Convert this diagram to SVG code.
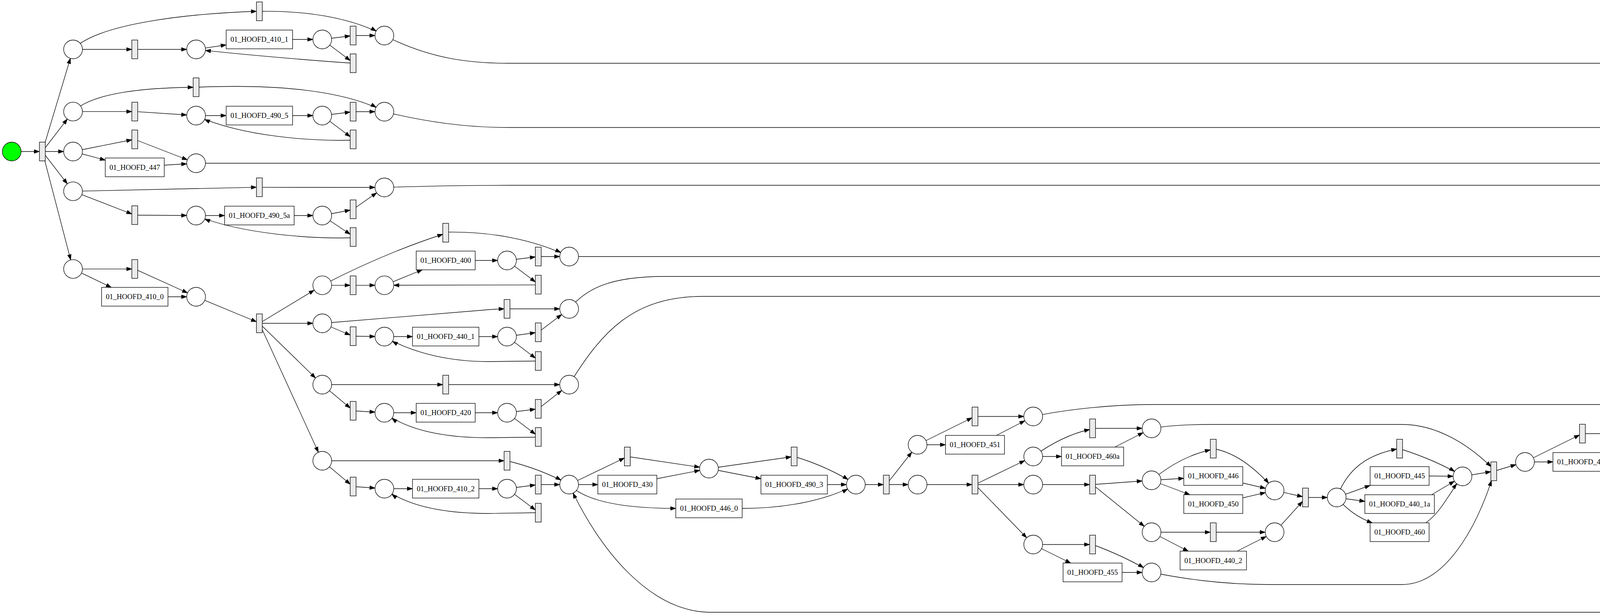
<svg xmlns="http://www.w3.org/2000/svg" width="7537" height="1575" viewBox="0 0 7537 1575">
<defs>
<style>
.pl{fill:#fff;stroke:#000;stroke-width:1.333}
.tr{fill:#ebebeb;stroke:#000;stroke-width:1.333}
.bx{fill:#fff;stroke:#000;stroke-width:1.333}
.lb{font-family:"Liberation Serif","Times New Roman",serif;font-size:18.67px;text-anchor:middle;fill:#000}
.e{fill:none;stroke:#000;stroke-width:1.333;marker-end:url(#a)}
.ep{fill:none;stroke:#000;stroke-width:1.333;marker-end:url(#ap)}
</style>
<marker id="a" viewBox="0 -5 14 10" refX="13.3" refY="0" markerWidth="14" markerHeight="10" markerUnits="userSpaceOnUse" orient="auto" overflow="visible"><path d="M0,-4.67 L13.3,0 L0,4.67 z" fill="#000" stroke="#000" stroke-width="1"/></marker>
<marker id="ap" viewBox="0 -5 14 10" refX="37.3" refY="0" markerWidth="14" markerHeight="10" markerUnits="userSpaceOnUse" orient="auto" overflow="visible"><path d="M0,-4.67 L13.3,0 L0,4.67 z" fill="#000" stroke="#000" stroke-width="1"/></marker>
</defs>
<rect x="0" y="0" width="7537" height="1575" fill="#fff"/>
<g id="edges">
<path class="e" d="M30,388 L101,388"/>
<path class="ep" d="M108.5,388 L187,126.5"/>
<path class="ep" d="M108.5,388 L187,285.7"/>
<path class="ep" d="M108.5,388 L187,388"/>
<path class="ep" d="M108.5,388 L187,489.8"/>
<path class="ep" d="M108.5,388 L187,688.8"/>
<path class="e" d="M187,126.5 L337.5,126.5"/>
<path class="e" d="M187,126.5 C250,60 480,35 656.5,29"/>
<path class="ep" d="M664,29 C800,27 910,50 984,91"/>
<path class="ep" d="M345,126.5 L502,126.5"/>
<path class="e" d="M502,126.5 L579,115"/>
<path class="ep" d="M749,101 L825,101"/>
<path class="e" d="M825,101 L896.5,92"/>
<path class="e" d="M825,101 L896.5,155"/>
<path class="ep" d="M904,91 L984,91"/>
<path class="ep" d="M904,162 C800,155 620,140 502,126.5"/>
<path class="e" d="M984,91 C1100,150 1200,162 1300,162 L7274,162 C7380,162 7418,290 7425,394"/>
<path class="e" d="M187,285.7 L337.5,285.7"/>
<path class="e" d="M187,285.7 C240,235 380,225 494.5,223.5"/>
<path class="ep" d="M502,223.5 C700,215 880,230 984,286"/>
<path class="ep" d="M345,285.7 L502,296"/>
<path class="e" d="M502,296 L579,296"/>
<path class="ep" d="M749,296 L825,296"/>
<path class="e" d="M825,296 L896.5,287"/>
<path class="e" d="M825,296 L896.5,350"/>
<path class="ep" d="M904,286 L984,286"/>
<path class="ep" d="M904,359 C800,362 620,350 502,296"/>
<path class="e" d="M984,286 C1100,315 1200,326.5 1300,326.5 L7274,326.5 C7340,326.5 7390,370 7421.5,406"/>
<path class="e" d="M187,388 L337.5,358"/>
<path class="e" d="M187,388 L269.5,410"/>
<path class="ep" d="M345,357 L502,418"/>
<path class="ep" d="M420.5,423 L502,418"/>
<path class="e" d="M502,418 L7421.5,418"/>
<path class="e" d="M187,489.8 L656.5,479.6"/>
<path class="e" d="M187,489.8 L337.5,548"/>
<path class="ep" d="M664,479.6 L984,480"/>
<path class="ep" d="M345,551 L502,552"/>
<path class="e" d="M502,552 L575,552"/>
<path class="ep" d="M753,552 L825,552"/>
<path class="e" d="M825,552 L896.5,538"/>
<path class="e" d="M825,552 L896.5,600"/>
<path class="ep" d="M904,536 L984,480"/>
<path class="ep" d="M904,609 C800,612 620,600 502,552"/>
<path class="e" d="M984,480 C1100,476 1200,474.5 1300,474.5 L7274,474.5 C7350,474.5 7395,460 7422,438"/>
<path class="e" d="M187,688.8 L337.5,688.8"/>
<path class="e" d="M187,688.8 L285,736"/>
<path class="ep" d="M345,688.8 L502,760"/>
<path class="ep" d="M430,760 L502,760"/>
<path class="e" d="M502,760 L656.5,824"/>
<path class="ep" d="M664,828 L825,730.6"/>
<path class="ep" d="M664,828 L825,828"/>
<path class="ep" d="M664,828 L825,985"/>
<path class="ep" d="M664,828 L825,1180"/>
<path class="e" d="M825,730.6 L896.5,730.6"/>
<path class="e" d="M825,730.6 Q980,650 1133.5,600"/>
<path class="ep" d="M904,730.6 L984,730.6"/>
<path class="e" d="M984,730.6 L1081,691"/>
<path class="ep" d="M1216.5,667 L1298,667"/>
<path class="e" d="M1298,667 L1370.5,658"/>
<path class="e" d="M1298,667 L1370.5,722"/>
<path class="ep" d="M1378,657 L1457,657"/>
<path class="ep" d="M1378,729.6 L984,730.6"/>
<path class="ep" d="M1141,594.5 C1260,592 1370,615 1457,657"/>
<path class="e" d="M1457,657 L7112,657 C7180,657 7230,680 7260.5,700"/>
<path class="e" d="M825,828 L1240,794 Q1260,792 1290.5,791"/>
<path class="e" d="M825,828 L896.5,858"/>
<path class="ep" d="M904,861 L984,862"/>
<path class="e" d="M984,862 L1056,862"/>
<path class="ep" d="M1226,862 L1298,862"/>
<path class="e" d="M1298,862 L1370.5,852"/>
<path class="e" d="M1298,862 L1370.5,917"/>
<path class="ep" d="M1378,851 L1457,791"/>
<path class="ep" d="M1298,791 L1457,791"/>
<path class="ep" d="M1378,924.5 L1250,926 C1130,926 1040,895 984,862"/>
<path class="e" d="M1457,791 C1500,740 1560,708 1700,708 L7260.5,708"/>
<path class="e" d="M825,985 L1133.5,985"/>
<path class="e" d="M825,985 L896.5,1045"/>
<path class="ep" d="M1141,985 L1457,985"/>
<path class="ep" d="M904,1052 L984,1057"/>
<path class="e" d="M984,1057 L1065.5,1057"/>
<path class="ep" d="M1216.5,1057 L1298,1057"/>
<path class="e" d="M1298,1057 L1370.5,1048"/>
<path class="e" d="M1298,1057 L1370.5,1112"/>
<path class="ep" d="M1378,1047 L1457,985"/>
<path class="ep" d="M1378,1119.5 L1250,1121 C1120,1121 1035,1095 984,1057"/>
<path class="e" d="M1457,985 C1540,850 1620,759 1800,759 L7112,759 C7180,759 7230,740 7260.5,716"/>
<path class="e" d="M825,1180 L1290.5,1180"/>
<path class="e" d="M825,1180 L896.5,1240"/>
<path class="ep" d="M904,1246 L984,1251.5"/>
<path class="e" d="M984,1251.5 L1056,1251.5"/>
<path class="ep" d="M1226,1251.5 L1298,1251.5"/>
<path class="e" d="M1298,1251.5 L1370.5,1242"/>
<path class="e" d="M1298,1251.5 L1370.5,1306"/>
<path class="ep" d="M1378,1241 L1457,1241"/>
<path class="ep" d="M1378,1313 L1250,1315 C1120,1315 1035,1290 984,1251.5"/>
<path class="ep" d="M1298,1180 C1360,1195 1410,1215 1457,1241"/>
<path class="e" d="M1457,1241 L1598.5,1173"/>
<path class="e" d="M1457,1241 L1530.5,1241"/>
<path class="e" d="M1457,1241 C1500,1285 1600,1302 1730,1302"/>
<path class="ep" d="M1606,1169 L1815,1200"/>
<path class="ep" d="M1681.5,1226 L1815,1200"/>
<path class="e" d="M1815,1200 L2025.5,1170"/>
<path class="e" d="M1815,1200 L1948,1226"/>
<path class="ep" d="M2033,1169 Q2120,1195 2191,1241"/>
<path class="ep" d="M2118,1241 L2191,1241"/>
<path class="ep" d="M1900,1302 C2000,1302 2110,1285 2191,1241"/>
<path class="e" d="M2191,1241 L2261.5,1241"/>
<path class="ep" d="M2269,1241 L2349,1139"/>
<path class="ep" d="M2269,1241 L2349,1241"/>
<path class="e" d="M2349,1139 L2488.5,1070"/>
<path class="e" d="M2349,1139 L2420.5,1139"/>
<path class="e" d="M2349,1241 L2488.5,1241"/>
<path class="ep" d="M2496,1066.5 L2645,1066.5"/>
<path class="ep" d="M2551,1115 L2645,1066.5"/>
<path class="e" d="M2645,1066.5 C2720,1050 2840,1036 2950,1036 L4271.5,1036"/>
<path class="ep" d="M2496,1241 L2645,1169"/>
<path class="ep" d="M2496,1241 L2645,1241"/>
<path class="ep" d="M2496,1241 L2645,1394.5"/>
<path class="e" d="M2645,1169 Q2720,1115 2789.5,1100"/>
<path class="e" d="M2645,1169 L2717.5,1169"/>
<path class="ep" d="M2797,1097 L2948,1097"/>
<path class="ep" d="M2854,1145 L2948,1097"/>
<path class="e" d="M2948,1097 C2990,1090 3050,1087 3100,1087 L3589,1087 C3680,1087 3760,1140 3817,1195"/>
<path class="e" d="M2645,1241 L2789.5,1241"/>
<path class="ep" d="M2797,1241 L2948,1230"/>
<path class="ep" d="M2797,1241 L2948,1363"/>
<path class="e" d="M2645,1394.5 L2789.5,1394.5"/>
<path class="e" d="M2645,1394.5 L2741,1442"/>
<path class="ep" d="M2797,1394.5 Q2880,1425 2948,1466"/>
<path class="ep" d="M2872.5,1466 L2948,1466"/>
<path class="e" d="M2948,1466 C3020,1480 3120,1497 3250,1497 L3589,1497 C3700,1497 3780,1350 3818,1231"/>
<path class="e" d="M2948,1230 Q3020,1170 3098.5,1152"/>
<path class="e" d="M2948,1230 L3030.5,1225"/>
<path class="e" d="M2948,1230 L3046,1267"/>
<path class="ep" d="M3106,1149 C3170,1160 3225,1210 3263,1256"/>
<path class="ep" d="M3181.5,1237 L3263,1256"/>
<path class="ep" d="M3181.5,1275 L3263,1256"/>
<path class="e" d="M2948,1363 L3098.5,1363"/>
<path class="e" d="M2948,1363 L3042,1411.5"/>
<path class="ep" d="M3106,1363 L3263,1363"/>
<path class="ep" d="M3167,1411.5 L3263,1363"/>
<path class="e" d="M3263,1256 L3334.5,1272"/>
<path class="e" d="M3263,1363 L3334.5,1284"/>
<path class="ep" d="M3342,1274 L3422,1274"/>
<path class="e" d="M3422,1274 C3450,1200 3500,1165 3575.5,1150"/>
<path class="e" d="M3422,1274 L3507.5,1243"/>
<path class="e" d="M3422,1274 L3494,1284"/>
<path class="e" d="M3422,1274 Q3460,1320 3513,1339"/>
<path class="ep" d="M3583,1149 Q3680,1180 3744,1220"/>
<path class="ep" d="M3658.5,1219 L3744,1220"/>
<path class="ep" d="M3665,1267 L3744,1220"/>
<path class="ep" d="M3650,1339 C3690,1310 3705,1270 3744,1220"/>
<path class="e" d="M3744,1220 L3816.5,1208"/>
<path class="ep" d="M3824,1207 L3904,1183"/>
<path class="e" d="M3904,1183 L4043.5,1114"/>
<path class="e" d="M3904,1183 L3975.5,1183"/>
<path class="ep" d="M4051,1110.5 L4200,1110.5"/>
<path class="ep" d="M4106,1159 L4200,1110.5"/>
<path class="e" d="M4200,1110.5 L4271.5,1043"/>
<path class="ep" d="M4279,1036 L4358,1036"/>
<path class="e" d="M4358,1036 Q4430,985 4508.5,968"/>
<path class="e" d="M4358,1036 L4431,1036"/>
<path class="e" d="M4358,1036 L4452,1084"/>
<path class="ep" d="M4516,964 Q4600,990 4673,1036"/>
<path class="ep" d="M4601,1036 L4673,1036"/>
<path class="ep" d="M4575,1084 L4673,1036"/>
<path class="e" d="M4673,1036 L4744.5,1036"/>
<path class="ep" d="M4752,1036 L4831,891.5"/>
<path class="ep" d="M4752,1036 L4831,1036"/>
<path class="ep" d="M4752,1036 L4831,1108"/>
<path class="e" d="M4831,891.5 L4972.5,824"/>
<path class="e" d="M4831,891.5 L4904.5,891.5"/>
<path class="ep" d="M4980,820.5 L5127,820.5"/>
<path class="ep" d="M5032,867.5 L5127,820.5"/>
<path class="e" d="M4831,1036 L4972.5,967"/>
<path class="e" d="M4831,1036 L4904.5,1036"/>
<path class="ep" d="M4980,963.5 L5127,963.5"/>
<path class="ep" d="M5032,1011 L5127,963.5"/>
<path class="e" d="M4831,1108 L4972.5,1108"/>
<path class="e" d="M4831,1108 L4917,1155.5"/>
<path class="ep" d="M4980,1108 L5127,1164"/>
<path class="ep" d="M5055.5,1170 L5127,1164"/>
<path class="e" d="M5127,820.5 C5180,813 5240,811.5 5300,811.5 L6797,811.5 C6860,811.5 6910,830 6944.5,850"/>
<path class="e" d="M5127,963.5 C5170,890 5220,862 5300,862 L6944.5,862"/>
<path class="e" d="M5127,1164 L5199.5,1164"/>
<path class="ep" d="M5207,1164 L5286,1025"/>
<path class="ep" d="M5207,1164 L5286,1164"/>
<path class="ep" d="M5207,1164 L5286,1374"/>
<path class="e" d="M5286,1025 Q5370,970 5436.5,955"/>
<path class="e" d="M5286,1025 L5364.5,1025"/>
<path class="ep" d="M5444,952 L5601,952"/>
<path class="ep" d="M5505,1001 L5601,952"/>
<path class="e" d="M5601,952 C5650,925 5700,913 5780,913 L6635,913 C6700,913 6760,960 6787,1002"/>
<path class="e" d="M5286,1164 L5436.5,1149"/>
<path class="e" d="M5286,1164 L5374,1195"/>
<path class="ep" d="M5444,1147.5 L5601,1213.5"/>
<path class="ep" d="M5519.5,1216 L5601,1213.5"/>
<path class="e" d="M5286,1374 L5436.5,1374"/>
<path class="e" d="M5286,1374 L5378,1422"/>
<path class="ep" d="M5444,1374 Q5525,1405 5601,1446"/>
<path class="ep" d="M5529,1446 L5601,1446"/>
<path class="e" d="M5601,1446 C5650,1500 5700,1518 5780,1518 L6635,1518 C6740,1518 6780,1200 6790,1049"/>
<path class="e" d="M5601,1213.5 L5673.5,1213.5"/>
<path class="ep" d="M5681,1213.5 L5760,1046"/>
<path class="ep" d="M5681,1213.5 L5760,1169"/>
<path class="ep" d="M5681,1213.5 L5760,1241"/>
<path class="ep" d="M5681,1213.5 L5760,1385"/>
<path class="e" d="M5760,1046 Q5840,990 5913.5,978"/>
<path class="e" d="M5760,1046 L5832,1046"/>
<path class="ep" d="M5921,974 L6082,1041"/>
<path class="ep" d="M6010,1044 L6082,1041"/>
<path class="e" d="M6082,1041 L6481,1041 C6540,1041 6590,1080 6628,1115"/>
<path class="e" d="M5760,1169 C5820,1110 5900,1100 6080,1099.5 L6232.5,1101"/>
<path class="e" d="M5760,1169 L5913.5,1169"/>
<path class="ep" d="M5921,1169 L6082,1174"/>
<path class="e" d="M6082,1174 L6155,1174"/>
<path class="ep" d="M6325,1174 L6396,1174"/>
<path class="e" d="M6396,1174 L6467.5,1165"/>
<path class="e" d="M6396,1174 L6467.5,1229"/>
<path class="ep" d="M6475,1236.5 C6330,1240 6160,1225 6082,1174"/>
<path class="ep" d="M6475,1164 L6555,1133"/>
<path class="ep" d="M6240,1102 L6555,1133"/>
<path class="e" d="M6555,1133 L6627.5,1133"/>
<path class="e" d="M5760,1241 L5913.5,1241"/>
<path class="e" d="M5760,1241 L5856,1288"/>
<path class="ep" d="M5921,1241 L6082,1297"/>
<path class="ep" d="M5996.5,1305 L6082,1297"/>
<path class="e" d="M6082,1297 L6481,1297 C6560,1297 6610,1220 6630,1157"/>
<path class="e" d="M5760,1385 L5913.5,1385"/>
<path class="e" d="M5760,1385 L5856,1433"/>
<path class="ep" d="M5921,1385 L6082,1385"/>
<path class="ep" d="M5985,1433 L6082,1385"/>
<path class="e" d="M6082,1385 C6200,1370 6300,1367 6481,1367 C6560,1367 6610,1250 6632,1157"/>
<path class="ep" d="M6635,1133 L6714,1057"/>
<path class="e" d="M6714,1057 L6785.5,1028"/>
<path class="ep" d="M6793,1025 L6873,988"/>
<path class="e" d="M6873,988 L6944.5,874"/>
<path class="ep" d="M6952,862 L7031,862"/>
<path class="e" d="M7031,862 L7103.5,853"/>
<path class="e" d="M7031,862 L7106,1217"/>
<path class="ep" d="M7111,852 L7190,841"/>
<path class="ep" d="M7111,1241 C7108,1420 7060,1568 6960,1568 L1820,1568 C1660,1568 1530,1400 1457,1241"/>
<path class="e" d="M7190,841 L7261,732"/>
<path class="ep" d="M7268,708 L7349,621"/>
<path class="e" d="M7349,621 L7424,442"/>
<path class="ep" d="M7429,418 L7508,418"/>
</g>
<g id="places">
<g id="source"><circle cx="30" cy="388" r="24" fill="#00ff00" stroke="#000" stroke-width="1.333"/></g>
<g id="sink"><circle cx="7508" cy="418" r="24" fill="#ff0000" stroke="#000" stroke-width="1.333"/></g>
<g id="p1"><circle class="pl" cx="187" cy="126.5" r="24"/></g>
<g id="p2"><circle class="pl" cx="187" cy="285.7" r="24"/></g>
<g id="p3"><circle class="pl" cx="187" cy="388" r="24"/></g>
<g id="p4"><circle class="pl" cx="187" cy="489.8" r="24"/></g>
<g id="p5"><circle class="pl" cx="187" cy="688.8" r="24"/></g>
<g id="pA2"><circle class="pl" cx="502" cy="126.5" r="24"/></g>
<g id="pB2"><circle class="pl" cx="502" cy="296" r="24"/></g>
<g id="pC"><circle class="pl" cx="502" cy="418" r="24"/></g>
<g id="pD2"><circle class="pl" cx="502" cy="552" r="24"/></g>
<g id="pE2"><circle class="pl" cx="502" cy="760" r="24"/></g>
<g id="pA3"><circle class="pl" cx="825" cy="101" r="24"/></g>
<g id="pB3"><circle class="pl" cx="825" cy="296" r="24"/></g>
<g id="pD3"><circle class="pl" cx="825" cy="552" r="24"/></g>
<g id="pE4"><circle class="pl" cx="825" cy="730.6" r="24"/></g>
<g id="pF1"><circle class="pl" cx="825" cy="828" r="24"/></g>
<g id="pG1"><circle class="pl" cx="825" cy="985" r="24"/></g>
<g id="pH1"><circle class="pl" cx="825" cy="1180" r="24"/></g>
<g id="pA"><circle class="pl" cx="984" cy="91" r="24"/></g>
<g id="pB"><circle class="pl" cx="984" cy="286" r="24"/></g>
<g id="pD"><circle class="pl" cx="984" cy="480" r="24"/></g>
<g id="pE5"><circle class="pl" cx="984" cy="730.6" r="24"/></g>
<g id="pF2"><circle class="pl" cx="984" cy="862" r="24"/></g>
<g id="pG2"><circle class="pl" cx="984" cy="1057" r="24"/></g>
<g id="pH2"><circle class="pl" cx="984" cy="1251.5" r="24"/></g>
<g id="pE6"><circle class="pl" cx="1298" cy="667" r="24"/></g>
<g id="pF3"><circle class="pl" cx="1298" cy="862" r="24"/></g>
<g id="pG3"><circle class="pl" cx="1298" cy="1057" r="24"/></g>
<g id="pH3"><circle class="pl" cx="1298" cy="1251.5" r="24"/></g>
<g id="pE7"><circle class="pl" cx="1457" cy="657" r="24"/></g>
<g id="pF4"><circle class="pl" cx="1457" cy="791" r="24"/></g>
<g id="pG4"><circle class="pl" cx="1457" cy="985" r="24"/></g>
<g id="pJ1"><circle class="pl" cx="1457" cy="1241" r="24"/></g>
<g id="pJ2"><circle class="pl" cx="1815" cy="1200" r="24"/></g>
<g id="pJ3"><circle class="pl" cx="2191" cy="1241" r="24"/></g>
<g id="pK1"><circle class="pl" cx="2349" cy="1139" r="24"/></g>
<g id="pK2"><circle class="pl" cx="2349" cy="1241" r="24"/></g>
<g id="pK3"><circle class="pl" cx="2645" cy="1066.5" r="24"/></g>
<g id="pL1"><circle class="pl" cx="2645" cy="1169" r="24"/></g>
<g id="pL2"><circle class="pl" cx="2645" cy="1241" r="24"/></g>
<g id="pL3"><circle class="pl" cx="2645" cy="1394.5" r="24"/></g>
<g id="pL4"><circle class="pl" cx="2948" cy="1097" r="24"/></g>
<g id="pM1"><circle class="pl" cx="2948" cy="1230" r="24"/></g>
<g id="pM2"><circle class="pl" cx="2948" cy="1363" r="24"/></g>
<g id="pL5"><circle class="pl" cx="2948" cy="1466" r="24"/></g>
<g id="pM3"><circle class="pl" cx="3263" cy="1256" r="24"/></g>
<g id="pM4"><circle class="pl" cx="3263" cy="1363" r="24"/></g>
<g id="pM5"><circle class="pl" cx="3422" cy="1274" r="24"/></g>
<g id="pM6"><circle class="pl" cx="3744" cy="1220" r="24"/></g>
<g id="pN1"><circle class="pl" cx="3904" cy="1183" r="24"/></g>
<g id="pN2"><circle class="pl" cx="4200" cy="1110.5" r="24"/></g>
<g id="pN3"><circle class="pl" cx="4358" cy="1036" r="24"/></g>
<g id="pN4"><circle class="pl" cx="4673" cy="1036" r="24"/></g>
<g id="pO1"><circle class="pl" cx="4831" cy="891.5" r="24"/></g>
<g id="pO2"><circle class="pl" cx="4831" cy="1036" r="24"/></g>
<g id="pO3"><circle class="pl" cx="4831" cy="1108" r="24"/></g>
<g id="pO4"><circle class="pl" cx="5127" cy="820.5" r="24"/></g>
<g id="pO5"><circle class="pl" cx="5127" cy="963.5" r="24"/></g>
<g id="pO6"><circle class="pl" cx="5127" cy="1164" r="24"/></g>
<g id="pQ1"><circle class="pl" cx="5286" cy="1025" r="24"/></g>
<g id="pQ2"><circle class="pl" cx="5286" cy="1164" r="24"/></g>
<g id="pQ3"><circle class="pl" cx="5286" cy="1374" r="24"/></g>
<g id="pQ4"><circle class="pl" cx="5601" cy="952" r="24"/></g>
<g id="pQ5"><circle class="pl" cx="5601" cy="1213.5" r="24"/></g>
<g id="pQ6"><circle class="pl" cx="5601" cy="1446" r="24"/></g>
<g id="pR1"><circle class="pl" cx="5760" cy="1046" r="24"/></g>
<g id="pR2"><circle class="pl" cx="5760" cy="1169" r="24"/></g>
<g id="pR3"><circle class="pl" cx="5760" cy="1241" r="24"/></g>
<g id="pR4"><circle class="pl" cx="5760" cy="1385" r="24"/></g>
<g id="pS1"><circle class="pl" cx="6082" cy="1041" r="24"/></g>
<g id="pS2"><circle class="pl" cx="6082" cy="1174" r="24"/></g>
<g id="pS3"><circle class="pl" cx="6082" cy="1297" r="24"/></g>
<g id="pS4"><circle class="pl" cx="6082" cy="1385" r="24"/></g>
<g id="pS5"><circle class="pl" cx="6396" cy="1174" r="24"/></g>
<g id="pS6"><circle class="pl" cx="6555" cy="1133" r="24"/></g>
<g id="pT1"><circle class="pl" cx="6714" cy="1057" r="24"/></g>
<g id="pT2"><circle class="pl" cx="6873" cy="988" r="24"/></g>
<g id="pT3"><circle class="pl" cx="7031" cy="862" r="24"/></g>
<g id="pT4"><circle class="pl" cx="7190" cy="841" r="24"/></g>
<g id="pT5"><circle class="pl" cx="7349" cy="621" r="24"/></g>
</g>
<g id="silent-transitions">
<g id="t0"><rect class="tr" x="101" y="364" width="15" height="48"/></g>
<g id="tA1"><rect class="tr" x="656.5" y="5" width="15" height="48"/></g>
<g id="tA2"><rect class="tr" x="337.5" y="102.5" width="15" height="48"/></g>
<g id="tA3"><rect class="tr" x="896.5" y="67" width="15" height="48"/></g>
<g id="tA4"><rect class="tr" x="896.5" y="138" width="15" height="48"/></g>
<g id="tB1"><rect class="tr" x="494.5" y="199.5" width="15" height="48"/></g>
<g id="tB2"><rect class="tr" x="337.5" y="261.7" width="15" height="48"/></g>
<g id="tB3"><rect class="tr" x="896.5" y="262" width="15" height="48"/></g>
<g id="tB4"><rect class="tr" x="896.5" y="333" width="15" height="48"/></g>
<g id="tC1"><rect class="tr" x="337.5" y="333" width="15" height="48"/></g>
<g id="tD1"><rect class="tr" x="656.5" y="455.6" width="15" height="48"/></g>
<g id="tD2"><rect class="tr" x="337.5" y="527" width="15" height="48"/></g>
<g id="tD3"><rect class="tr" x="896.5" y="512" width="15" height="48"/></g>
<g id="tD4"><rect class="tr" x="896.5" y="583" width="15" height="48"/></g>
<g id="tE1"><rect class="tr" x="337.5" y="664.8" width="15" height="48"/></g>
<g id="tE3"><rect class="tr" x="656.5" y="804" width="15" height="48"/></g>
<g id="tE4"><rect class="tr" x="896.5" y="706.6" width="15" height="48"/></g>
<g id="tE5"><rect class="tr" x="1133.5" y="572" width="15" height="48"/></g>
<g id="tE6"><rect class="tr" x="1370.5" y="633" width="15" height="48"/></g>
<g id="tE7"><rect class="tr" x="1370.5" y="705" width="15" height="48"/></g>
<g id="tF1"><rect class="tr" x="896.5" y="837" width="15" height="48"/></g>
<g id="tF2"><rect class="tr" x="1290.5" y="767" width="15" height="48"/></g>
<g id="tF3"><rect class="tr" x="1370.5" y="827" width="15" height="48"/></g>
<g id="tF4"><rect class="tr" x="1370.5" y="900.5" width="15" height="48"/></g>
<g id="tG1"><rect class="tr" x="1133.5" y="961" width="15" height="48"/></g>
<g id="tG2"><rect class="tr" x="896.5" y="1028" width="15" height="48"/></g>
<g id="tG3"><rect class="tr" x="1370.5" y="1023" width="15" height="48"/></g>
<g id="tG4"><rect class="tr" x="1370.5" y="1095" width="15" height="48"/></g>
<g id="tH1"><rect class="tr" x="1290.5" y="1156" width="15" height="48"/></g>
<g id="tH2"><rect class="tr" x="896.5" y="1222" width="15" height="48"/></g>
<g id="tH3"><rect class="tr" x="1370.5" y="1217" width="15" height="48"/></g>
<g id="tH4"><rect class="tr" x="1370.5" y="1289" width="15" height="48"/></g>
<g id="tJ1"><rect class="tr" x="1598.5" y="1145" width="15" height="48"/></g>
<g id="tJ2"><rect class="tr" x="2025.5" y="1145" width="15" height="48"/></g>
<g id="tJ3"><rect class="tr" x="2261.5" y="1217" width="15" height="48"/></g>
<g id="tK1"><rect class="tr" x="2488.5" y="1042.5" width="15" height="48"/></g>
<g id="tK2"><rect class="tr" x="2488.5" y="1217" width="15" height="48"/></g>
<g id="tL1"><rect class="tr" x="2789.5" y="1073" width="15" height="48"/></g>
<g id="tL2"><rect class="tr" x="2789.5" y="1217" width="15" height="48"/></g>
<g id="tL3"><rect class="tr" x="2789.5" y="1370.5" width="15" height="48"/></g>
<g id="tM1"><rect class="tr" x="3098.5" y="1125" width="15" height="48"/></g>
<g id="tM2"><rect class="tr" x="3098.5" y="1339" width="15" height="48"/></g>
<g id="tM3"><rect class="tr" x="3334.5" y="1250" width="15" height="48"/></g>
<g id="tM4"><rect class="tr" x="3575.5" y="1125" width="15" height="48"/></g>
<g id="tN0"><rect class="tr" x="3816.5" y="1183" width="15" height="48"/></g>
<g id="tN1"><rect class="tr" x="4043.5" y="1086.5" width="15" height="48"/></g>
<g id="tN2"><rect class="tr" x="4271.5" y="1012" width="15" height="48"/></g>
<g id="tN3"><rect class="tr" x="4508.5" y="940" width="15" height="48"/></g>
<g id="tN4"><rect class="tr" x="4744.5" y="1012" width="15" height="48"/></g>
<g id="tO1"><rect class="tr" x="4972.5" y="796.5" width="15" height="48"/></g>
<g id="tO2"><rect class="tr" x="4972.5" y="939.5" width="15" height="48"/></g>
<g id="tO3"><rect class="tr" x="4972.5" y="1084" width="15" height="48"/></g>
<g id="tQ0"><rect class="tr" x="5199.5" y="1140" width="15" height="48"/></g>
<g id="tQ1"><rect class="tr" x="5436.5" y="928" width="15" height="48"/></g>
<g id="tQ2"><rect class="tr" x="5436.5" y="1123.5" width="15" height="48"/></g>
<g id="tQ3"><rect class="tr" x="5436.5" y="1350" width="15" height="48"/></g>
<g id="tR0"><rect class="tr" x="5673.5" y="1189.5" width="15" height="48"/></g>
<g id="tR1"><rect class="tr" x="5913.5" y="950" width="15" height="48"/></g>
<g id="tR2"><rect class="tr" x="5913.5" y="1145" width="15" height="48"/></g>
<g id="tR3"><rect class="tr" x="5913.5" y="1217" width="15" height="48"/></g>
<g id="tR4"><rect class="tr" x="5913.5" y="1361" width="15" height="48"/></g>
<g id="tS1"><rect class="tr" x="6232.5" y="1078" width="15" height="48"/></g>
<g id="tS2"><rect class="tr" x="6467.5" y="1140" width="15" height="48"/></g>
<g id="tS3"><rect class="tr" x="6467.5" y="1212" width="15" height="48"/></g>
<g id="tS4"><rect class="tr" x="6627.5" y="1109" width="15" height="48"/></g>
<g id="tT1"><rect class="tr" x="6785.5" y="1001" width="15" height="48"/></g>
<g id="tT2"><rect class="tr" x="6944.5" y="838" width="15" height="48"/></g>
<g id="tT3"><rect class="tr" x="7103.5" y="828" width="15" height="48"/></g>
<g id="tT4"><rect class="tr" x="7103.5" y="1217" width="15" height="48"/></g>
<g id="tT5"><rect class="tr" x="7260.5" y="684" width="15" height="48"/></g>
<g id="tFinal"><rect class="tr" x="7421.5" y="394" width="15" height="48"/></g>
</g>
<g id="transitions">
<g id="t_447"><rect class="bx" x="269.5" y="404.6" width="151" height="48"/><text class="lb" x="345" y="434.6">01_HOOFD_447</text></g>
<g id="t_410_0"><rect class="bx" x="260" y="736" width="170" height="48"/><text class="lb" x="345" y="766">01_HOOFD_410_0</text></g>
<g id="t_410_1"><rect class="bx" x="579" y="77" width="170" height="48"/><text class="lb" x="664" y="107">01_HOOFD_410_1</text></g>
<g id="t_490_5"><rect class="bx" x="579" y="272" width="170" height="48"/><text class="lb" x="664" y="302">01_HOOFD_490_5</text></g>
<g id="t_490_5a"><rect class="bx" x="575" y="528" width="178" height="48"/><text class="lb" x="664" y="558">01_HOOFD_490_5a</text></g>
<g id="t_400"><rect class="bx" x="1065.5" y="643" width="151" height="48"/><text class="lb" x="1141" y="673">01_HOOFD_400</text></g>
<g id="t_440_1"><rect class="bx" x="1056" y="838" width="170" height="48"/><text class="lb" x="1141" y="868">01_HOOFD_440_1</text></g>
<g id="t_420"><rect class="bx" x="1065.5" y="1033" width="151" height="48"/><text class="lb" x="1141" y="1063">01_HOOFD_420</text></g>
<g id="t_410_2"><rect class="bx" x="1056" y="1227.5" width="170" height="48"/><text class="lb" x="1141" y="1257.5">01_HOOFD_410_2</text></g>
<g id="t_430"><rect class="bx" x="1530.5" y="1217" width="151" height="48"/><text class="lb" x="1606" y="1247">01_HOOFD_430</text></g>
<g id="t_446_0"><rect class="bx" x="1730" y="1278" width="170" height="48"/><text class="lb" x="1815" y="1308">01_HOOFD_446_0</text></g>
<g id="t_490_3"><rect class="bx" x="1948" y="1217" width="170" height="48"/><text class="lb" x="2033" y="1247">01_HOOFD_490_3</text></g>
<g id="t_451"><rect class="bx" x="2420.5" y="1115" width="151" height="48"/><text class="lb" x="2496" y="1145">01_HOOFD_451</text></g>
<g id="t_460a"><rect class="bx" x="2717.5" y="1145" width="159" height="48"/><text class="lb" x="2797" y="1175">01_HOOFD_460a</text></g>
<g id="t_455"><rect class="bx" x="2721.5" y="1442" width="151" height="48"/><text class="lb" x="2797" y="1472">01_HOOFD_455</text></g>
<g id="t_446"><rect class="bx" x="3030.5" y="1195" width="151" height="48"/><text class="lb" x="3106" y="1225">01_HOOFD_446</text></g>
<g id="t_450"><rect class="bx" x="3030.5" y="1267" width="151" height="48"/><text class="lb" x="3106" y="1297">01_HOOFD_450</text></g>
<g id="t_440_2"><rect class="bx" x="3021" y="1411.5" width="170" height="48"/><text class="lb" x="3106" y="1441.5">01_HOOFD_440_2</text></g>
<g id="t_445"><rect class="bx" x="3507.5" y="1195" width="151" height="48"/><text class="lb" x="3583" y="1225">01_HOOFD_445</text></g>
<g id="t_440_1a"><rect class="bx" x="3494" y="1267" width="178" height="48"/><text class="lb" x="3583" y="1297">01_HOOFD_440_1a</text></g>
<g id="t_460"><rect class="bx" x="3507.5" y="1339" width="151" height="48"/><text class="lb" x="3583" y="1369">01_HOOFD_460</text></g>
<g id="t_456"><rect class="bx" x="3975.5" y="1159" width="151" height="48"/><text class="lb" x="4051" y="1189">01_HOOFD_456</text></g>
<g id="t_490_2"><rect class="bx" x="4431" y="1012" width="170" height="48"/><text class="lb" x="4516" y="1042">01_HOOFD_490_2</text></g>
<g id="t_491"><rect class="bx" x="4440.5" y="1084" width="151" height="48"/><text class="lb" x="4516" y="1114">01_HOOFD_491</text></g>
<g id="t_470"><rect class="bx" x="4904.5" y="867.5" width="151" height="48"/><text class="lb" x="4980" y="897.5">01_HOOFD_470</text></g>
<g id="t_465"><rect class="bx" x="4904.5" y="1011" width="151" height="48"/><text class="lb" x="4980" y="1041">01_HOOFD_465</text></g>
<g id="t_480"><rect class="bx" x="4904.5" y="1155.5" width="151" height="48"/><text class="lb" x="4980" y="1185.5">01_HOOFD_480</text></g>
<g id="t_494a"><rect class="bx" x="5364.5" y="1001" width="159" height="48"/><text class="lb" x="5444" y="1031">01_HOOFD_494a</text></g>
<g id="t_448"><rect class="bx" x="5368.5" y="1195" width="151" height="48"/><text class="lb" x="5444" y="1225">01_HOOFD_448</text></g>
<g id="t_490_1"><rect class="bx" x="5359" y="1422" width="170" height="48"/><text class="lb" x="5444" y="1452">01_HOOFD_490_1</text></g>
<g id="t_490_1a"><rect class="bx" x="5832" y="1022" width="178" height="48"/><text class="lb" x="5921" y="1052">01_HOOFD_490_1a</text></g>
<g id="t_459"><rect class="bx" x="5845.5" y="1288" width="151" height="48"/><text class="lb" x="5921" y="1318">01_HOOFD_459</text></g>
<g id="t_495"><rect class="bx" x="5845.5" y="1433" width="151" height="48"/><text class="lb" x="5921" y="1463">01_HOOFD_495</text></g>
<g id="t_490_4"><rect class="bx" x="6155" y="1150" width="170" height="48"/><text class="lb" x="6240" y="1180">01_HOOFD_490_4</text></g>
</g>
</svg>
